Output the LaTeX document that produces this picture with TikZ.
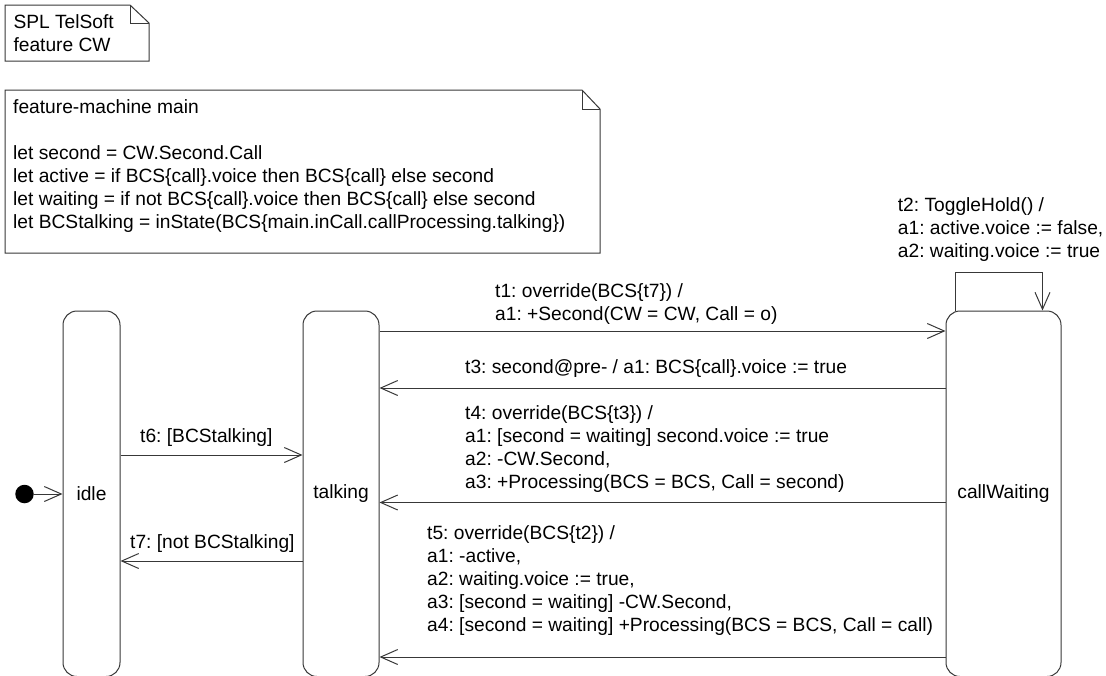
\documentclass[tikz,border=0pt]{standalone}
\usepackage{fontspec}
\setmainfont{Liberation Sans}
\usetikzlibrary{arrows.meta}
\frenchspacing
% left-aligned block of lines whose baseline is the first line
\newcommand{\labellines}[1]{\begin{tabular}[t]{@{}l@{}}#1\end{tabular}}
\definecolor{inkline}{gray}{0.22}
\begin{document}
\begin{tikzpicture}[x=1pt,y=-1pt,
  every node/.style={font=\fontsize{19.2pt}{23.1pt}\selectfont, text=black},
  stateblock/.style={draw=inkline, line width=1pt, rounded corners=14pt, inner sep=0pt},
  tr/.style={draw=inkline, line width=1pt, -{Straight Barb[length=17pt,width=15pt]}},
  lbl/.style={anchor=base west, inner sep=0pt},
  noteline/.style={draw=inkline, line width=1pt, line join=miter}]
\fill[white] (0,0) rectangle (1106,675);
\useasboundingbox (0,0) rectangle (1106,675);

% notes with folded corner
\draw[noteline] (5,5) -- (130,5) -- (149,23) -- (149,61) -- (5,61) -- cycle;
\draw[noteline] (130,5) -- (130,23) -- (149,23);
\node[lbl] (noteA) at (13.3,28.3) {\labellines{SPL TelSoft\\feature CW}};

\draw[noteline] (5,90) -- (582,90) -- (600,109) -- (600,253) -- (5,253) -- cycle;
\draw[noteline] (582,90) -- (582,109) -- (600,109);
\node[lbl] (noteB) at (13,113) {\labellines{feature-machine main\\ \\
  let second = CW.Second.Call\\
  let active = if BCS\{call\}.voice then BCS\{call\} else second\\
  let waiting = if not BCS\{call\}.voice then BCS\{call\} else second\\
  let BCStalking = inState(BCS\{main.inCall.callProcessing.talking\})}};

% states
\node[stateblock, minimum width=57pt, minimum height=365.5pt] (idle) at (91.5,493.75) {idle};
\node[stateblock, minimum width=76pt, minimum height=365.5pt] (talking) at (341,493.75) {talking};
\node[stateblock, minimum width=115pt, minimum height=365.5pt] (cw) at (1003.5,493.75) {callWaiting};
\node[circle, fill=black, inner sep=0pt, minimum size=18.5pt] (init) at (24.5,494) {};

% transitions
\draw[tr] (init) -- (idle.west |- init);
\draw[tr] (idle.east |- 0,455) -- (talking.west |- 0,455);
\draw[tr] (talking.west |- 0,561) -- (idle.east |- 0,561);
\draw[tr] (talking.east |- 0,331) -- (cw.west |- 0,331);
\draw[tr] (cw.west |- 0,388) -- (talking.east |- 0,388);
\draw[tr] (cw.west |- 0,502.5) -- (talking.east |- 0,502.5);
\draw[tr] (cw.west |- 0,657) -- (talking.east |- 0,657);
\draw[tr] ([xshift=10pt]cw.north west) -- ++(0,-38) -| ([xshift=-19pt]cw.north east);

% transition labels
\node[lbl] (l6) at (140,442) {t6: [BCStalking]};
\node[lbl] (l7) at (130,548) {t7: [not BCStalking]};
\node[lbl] (l1) at (495,297) {\labellines{t1: override(BCS\{t7\}) /\\a1: +Second(CW = CW, Call = o)}};
\node[lbl] (l3) at (465,373) {t3: second@pre- / a1: BCS\{call\}.voice := true};
\node[lbl] (l4) at (465,419.5) {\labellines{t4: override(BCS\{t3\}) /\\
  a1: [second = waiting] second.voice := true\\
  a2: -CW.Second,\\
  a3: +Processing(BCS = BCS, Call = second)}};
\node[lbl] (l5) at (427,539) {\labellines{t5: override(BCS\{t2\}) /\\
  a1: -active,\\
  a2: waiting.voice := true,\\
  a3: [second = waiting] -CW.Second,\\
  a4: [second = waiting] +Processing(BCS = BCS, Call = call)}};
\node[lbl] (l2) at (897.7,211.7) {\labellines{t2: ToggleHold() /\\
  a1: active.voice := false,\\
  a2: waiting.voice := true}};
\end{tikzpicture}
\end{document}
